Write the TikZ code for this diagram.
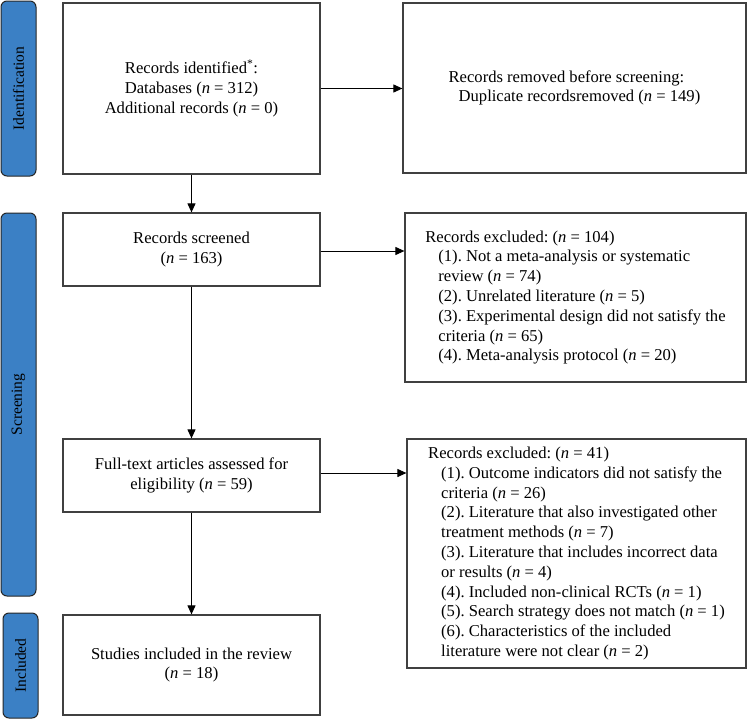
\documentclass[tikz,border=0pt]{standalone}
\usepackage{fontspec}
\setmainfont{Liberation Serif}
\usetikzlibrary{arrows.meta}
\definecolor{sidebl}{HTML}{3B80C5}
\newcommand{\nn}{\textit{n}}
\frenchspacing
\begin{document}
\begin{tikzpicture}[x=1pt,y=-1pt,
  box/.style={draw=black!75, line width=1.2pt, inner sep=0pt, align=center,
    font=\fontsize{16.6}{19.8}\selectfont},
  lbox/.style={box, align=left},
  side/.style={draw=black!85, fill=sidebl, rounded corners=6pt, line width=1pt,
    inner sep=0pt, rotate=90, font=\fontsize{15.5}{17}\selectfont},
  arr/.style={line width=1pt, -{Triangle[length=9pt,width=8pt]}}]
\useasboundingbox (0,0) rectangle (747,720);

% side bars
\node[side, minimum width=175pt, minimum height=35pt] (s1) at (18.5,88.5) {Identification};
\node[side, minimum width=383pt, minimum height=35pt] (s2) at (18.5,404.5) {Screening};
\node[side, minimum width=105pt, minimum height=35pt] (s3) at (20.5,665.5) {Included};

% boxes
\node[box, minimum width=257pt, minimum height=171pt] (b1) at (191.5,88.5)
  {Records identified\textsuperscript{*}:\\Databases (\nn{} = 312)\\Additional records (\nn{} = 0)};
\node[lbox, minimum width=343pt, minimum height=170pt] (b2) at (574.5,88)
  {Records removed before screening:\\\hspace*{10pt}Duplicate recordsremoved (\nn{} = 149)};
\node[box, minimum width=257pt, minimum height=73pt] (b3) at (191.5,249.5)
  {Records screened\\(\nn{} = 163)};
\node[lbox, minimum width=341pt, minimum height=169pt] (b4) at (575.5,297.5)
  {Records excluded: (\nn{} = 104)\\
   \hspace*{13pt}(1). Not a meta-analysis or systematic\\
   \hspace*{13pt}review (\nn{} = 74)\\
   \hspace*{13pt}(2). Unrelated literature (\nn{} = 5)\\
   \hspace*{13pt}(3). Experimental design did not satisfy the\\
   \hspace*{13pt}criteria (\nn{} = 65)\\
   \hspace*{13pt}(4). Meta-analysis protocol (\nn{} = 20)};
\node[box, minimum width=257pt, minimum height=73pt] (b5) at (191.5,475.5)
  {Full-text articles assessed for\\eligibility (\nn{} = 59)};
\node[lbox, minimum width=339pt, minimum height=229pt] (b6) at (576.5,553.5)
  {Records excluded: (\nn{} = 41)\\
   \hspace*{13pt}(1). Outcome indicators did not satisfy the\\
   \hspace*{13pt}criteria (\nn{} = 26)\\
   \hspace*{13pt}(2). Literature that also investigated other\\
   \hspace*{13pt}treatment methods (\nn{} = 7)\\
   \hspace*{13pt}(3). Literature that includes incorrect data\\
   \hspace*{13pt}or results (\nn{} = 4)\\
   \hspace*{13pt}(4). Included non-clinical RCTs (\nn{} = 1)\\
   \hspace*{13pt}(5). Search strategy does not match (\nn{} = 1)\\
   \hspace*{13pt}(6). Characteristics of the included\\
   \hspace*{13pt}literature were not clear (\nn{} = 2)};
\node[box, minimum width=257pt, minimum height=100pt] (b7) at (191.5,665)
  {Studies included in the review\\(\nn{} = 18)};

% connectors
\draw[arr] (b1.east) -- (b1.east -| b2.west);
\draw[arr] (b1.south) -- (b3.north);
\draw[arr] ([yshift=-1.5pt]b3.east) -- ([yshift=-1.5pt]b3.east -| b4.west);
\draw[arr] (b3.south) -- (b5.north);
\draw[arr] ([yshift=2.5pt]b5.east) -- ([yshift=2.5pt]b5.east -| b6.west);
\draw[arr] (b5.south) -- (b7.north);
\end{tikzpicture}
\end{document}
